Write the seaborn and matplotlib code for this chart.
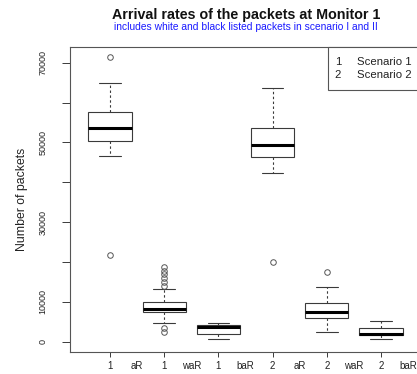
import numpy as np
import pandas as pd
import seaborn as sns
import matplotlib.pyplot as plt
from matplotlib.patches import Rectangle

# groups in the order they appear on the x axis
groups = ["1 aR", "1 waR", "1 baR", "2 aR", "2 waR", "2 baR"]
scenario_labels = ["1", "1", "1", "2", "2", "2"]
rate_labels = ["aR", "waR", "baR", "aR", "waR", "baR"]

# box statistics (number of packets)
whisker_low = [46590, 4600, 600, 42330, 2510, 600]
q1 = [50350, 7530, 2000, 46270, 5870, 1680]
median = [53540, 8130, 3610, 49430, 7530, 1930]
q3 = [57700, 10040, 4190, 53540, 9790, 3360]
whisker_high = [64990, 13150, 4770, 63730, 13720, 5190]
outliers = [
    [21750, 71360],
    [2400, 3500, 14100, 15000, 16000, 16900, 17800, 18800],
    [],
    [20070],
    [17560],
    [],
]

# long table for seaborn: the quartile values are repeated so that
# the boxplot statistics come out
rows = []
for i, g in enumerate(groups):
    vals = outliers[i] + [whisker_low[i], whisker_high[i]]
    vals += [q1[i]] * 30 + [median[i]] * 30 + [q3[i]] * 30
    for v in vals:
        rows.append({"group": g, "packets": v})
df = pd.DataFrame(rows)

sns.set_style("ticks")
plt.rcParams["font.family"] = ["Liberation Sans", "DejaVu Sans"]

fig = plt.figure(figsize=(4.17, 3.74), dpi=100)
ax = fig.add_axes([70 / 417, (374 - 351.7) / 374, 352 / 417, 305 / 374])

edge = "#3a3a3a"
txt = "#222222"
sns.boxplot(
    data=df, x="group", y="packets", order=groups, ax=ax,
    color="white", linecolor=edge, linewidth=0.8, width=0.8,
    flierprops=dict(marker="o", markersize=4, markerfacecolor="none",
                    markeredgecolor="#555555", markeredgewidth=0.7),
    medianprops=dict(color="black", linewidth=2.2),
    whiskerprops=dict(linestyle=(0, (2.2, 2.2))),
)

ax.set_xlim(-0.738, 5.756)
ax.set_ylim(-2509, 74014)

ax.set_xticks(range(len(groups)))
ax.set_xticklabels(scenario_labels)
ax.set_xticks([i + 0.5 for i in range(len(groups))], minor=True)
ax.set_xticklabels(rate_labels, minor=True)
ax.tick_params(axis="x", which="major", length=3.6, width=0.7, color=edge,
               pad=3.2, labelsize=7, labelcolor=txt)
ax.tick_params(axis="x", which="minor", length=0, pad=6.8,
               labelsize=7, labelcolor=txt)

ax.set_yticks(range(0, 70001, 10000))
ax.set_yticklabels(["0", "10000", "", "30000", "", "50000", "", "70000"])
ax.tick_params(axis="y", length=5.5, width=0.7, color=edge, pad=10.5,
               labelsize=6.5, labelcolor=txt, labelrotation=90)
for lab in ax.get_yticklabels():
    lab.set_va("center")

ax.set_xlabel("")
ax.set_ylabel("Number of packets", fontsize=8.8, color=txt)
ax.yaxis.set_label_coords(-0.12, 0.5)

for sp in ax.spines.values():
    sp.set_color("#555555")
    sp.set_linewidth(0.8)

# legend box in the top right corner
ax.add_patch(Rectangle((0.733, 0.858), 0.4, 0.142, transform=ax.transAxes,
                       facecolor="white", edgecolor="#555555", linewidth=0.8,
                       clip_on=False, zorder=5))
for k, (sym, name) in enumerate([("1", "Scenario 1"), ("2", "Scenario 2")]):
    yy = 0.951 - k * 0.044
    ax.text(0.761, yy, sym, transform=ax.transAxes, fontsize=8.2,
            ha="center", va="center", color=txt, zorder=6)
    ax.text(0.8145, yy, name, transform=ax.transAxes, fontsize=8.2,
            ha="left", va="center", color=txt, zorder=6)

fig.text(246 / 417, 1 - 15 / 374, "Arrival rates of the packets at Monitor 1",
         ha="center", va="center", fontsize=10.3, fontweight="bold", color="#111111")
fig.text(246 / 417, 1 - 27 / 374,
         "includes white and black listed packets in scenario I and II",
         ha="center", va="center", fontsize=7.4, color="#1a1aff")

fig.savefig("out.png", dpi=100)
